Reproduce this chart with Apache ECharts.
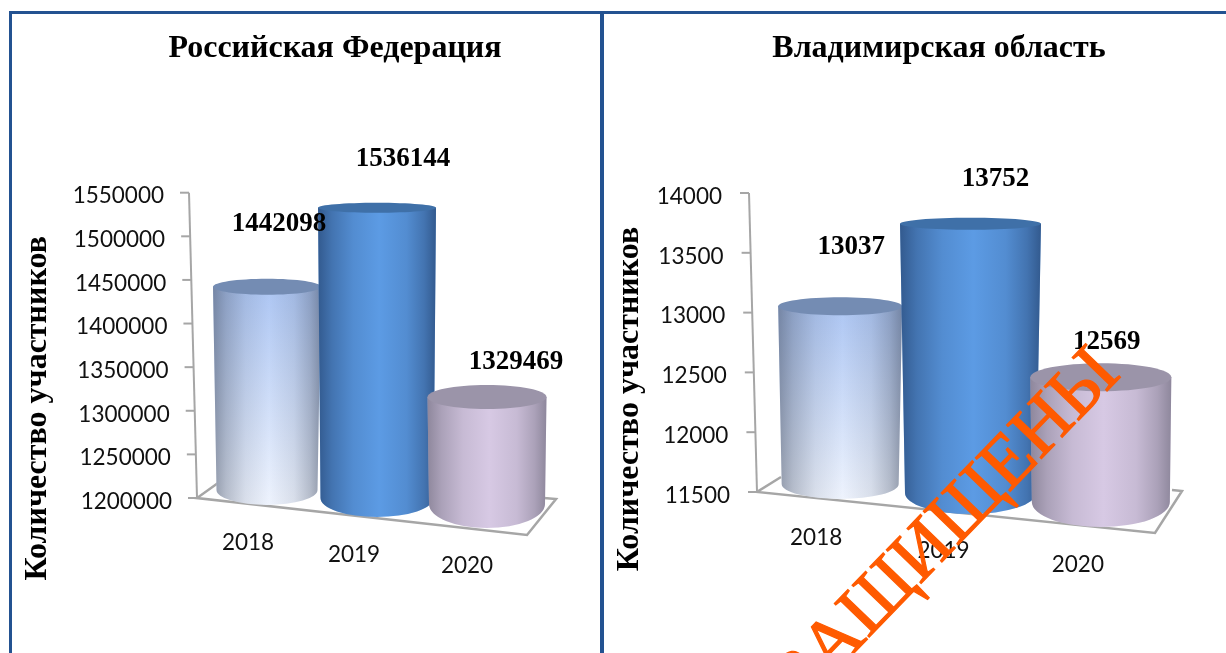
<!DOCTYPE html>
<html>
<head>
<meta charset="utf-8">
<style>html,body{margin:0;padding:0;background:#fff}#c{width:1226px;height:653px}</style>
<script src="https://cdn.jsdelivr.net/npm/echarts@6/dist/echarts.min.js"></script>
</head>
<body>
<div id="c"></div>
<script>
const categories = ['2018', '2019', '2020'];
const valuesRF = [1442098, 1536144, 1329469];
const valuesVlad = [13037, 13752, 12569];
const ticksRF = [1200000, 1250000, 1300000, 1350000, 1400000, 1450000, 1500000, 1550000];
const ticksVlad = [11500, 12000, 12500, 13000, 13500, 14000];
const titleRF = 'Российская Федерация';
const titleVlad = 'Владимирская область';
const yName = 'Количество участников';
const watermark = 'ЗАЩИЩЕНЫ';

const SERIF = '"Liberation Serif","Times New Roman",serif';
const SANS = 'Lato,"Noto Sans",sans-serif';
const GRAY = '#a6a6a6';

const skins = [
  {bodyTop: '#adc6f3', bodyBot: '#eef3fd', edge: '70,80,100', a: 0.55, cap: '#748cb3'},
  {bodyTop: '#5c9be4', bodyBot: '#5c9be4', edge: '25,50,90', a: 0.62, cap: '#3f70a8'},
  {bodyTop: '#d7c9e4', bodyBot: '#d7c9e4', edge: '70,70,85', a: 0.5, cap: '#9b94a9'}
];

// perspective layout for each panel (not data): per category
const panels = [
  {
    grid: {left: 212, top: 192.7, width: 330, height: 305.3},
    min: 1200000, max: 1550000, interval: 50000, ticks: ticksRF, values: valuesRF,
    originDX: -15, skew: 8, tickLen: 9, labelGap: 40,
    floor: [[21, -15], [0, 0], [330, 37], [359, 1], [347, 0]],
    nameGap: 158, namePad: 126,
    bars: [
      {wT: 108, wB: 101, sT: 0, ryT: 8, sB: -8, ryB: 15},
      {wT: 118, wB: 113, sT: 3, ryT: 5, sB: 0, ryB: 19},
      {wT: 119, wB: 116, sT: 12, ryT: 12, sB: 6, ryB: 24}
    ],
    lab: [[12, -63], [26, -46], [29, -23]],
    xl: [[38, 33], [46, 45], [40, 56]]
  },
  {
    grid: {left: 775, top: 193, width: 391, height: 299},
    min: 11500, max: 14000, interval: 500, ticks: ticksVlad, values: valuesVlad,
    originDX: -18, skew: 8, tickLen: 9, labelGap: 45,
    floor: [[24, -15], [0, 0], [398, 41], [425, -1], [415, -2]],
    nameGap: 129, namePad: 113,
    bars: [
      {wT: 124, wB: 117, sT: -2, ryT: 9, sB: -8, ryB: 15},
      {wT: 141, wB: 131, sT: 1, ryT: 6, sB: 1, ryB: 21},
      {wT: 141, wB: 138, sT: 13, ryT: 14, sB: 10, ryB: 25}
    ],
    lab: [[11, -61], [25, -44], [6, -22]],
    xl: [[48, 34], [54, 47], [46, 61]]
  }
];

function vGrad(a, b) {
  return {type: 'linear', x: 0, y: 0, x2: 0, y2: 1, colorStops: [{offset: 0, color: a}, {offset: 1, color: b}]};
}
function shade(skin) {
  const c = function (f) { return 'rgba(' + skin.edge + ',' + (skin.a * f) + ')'; };
  return {type: 'linear', x: 0, y: 0, x2: 1, y2: 0, colorStops: [
    {offset: 0, color: c(1)},
    {offset: 0.12, color: c(0.6)},
    {offset: 0.3, color: c(0.22)},
    {offset: 0.52, color: c(0)},
    {offset: 0.75, color: c(0.22)},
    {offset: 0.9, color: c(0.6)},
    {offset: 1, color: c(1)}
  ]};
}

function renderFrame(p) {
  return function (params, api) {
    const cs = params.coordSys;
    const v = api.value(1);
    const pt = api.coord([0, v]);
    const ox = cs.x + p.originDX;
    const t = (v - p.min) / (p.max - p.min);
    const x = ox - p.skew * t;
    const children = [{
      type: 'line', shape: {x1: x - p.tickLen, y1: pt[1], x2: x, y2: pt[1]},
      style: {stroke: GRAY, lineWidth: 2}
    }];
    if (params.dataIndex === 0) {
      const oy = cs.y + cs.height;
      children.push({
        type: 'polyline',
        shape: {points: p.floor.map(q => [ox + q[0], oy + q[1]])},
        style: {fill: 'none', stroke: GRAY, lineWidth: 2.5}
      });
      children.push({
        type: 'line', shape: {x1: ox, y1: oy, x2: ox - p.skew, y2: cs.y},
        style: {stroke: GRAY, lineWidth: 2}
      });
    }
    return {type: 'group', children};
  };
}

function renderBar(p) {
  return function (params, api) {
    const i = api.value(0);
    const b = p.bars[i];
    const skin = skins[i];
    const top = api.coord([i, api.value(1)]);
    const base = api.coord([i, p.min]);
    const cx = top[0];
    const yT = top[1] + b.sT;
    const yB = base[1] + b.sB;
    const d = 'M' + (cx - b.wT / 2) + ' ' + yT + 'L' + (cx + b.wT / 2) + ' ' + yT +
      'L' + (cx + b.wB / 2) + ' ' + yB +
      'A' + (b.wB / 2) + ' ' + b.ryB + ' 0 0 1 ' + (cx - b.wB / 2) + ' ' + yB + 'Z';
    return {
      type: 'group',
      children: [
        {type: 'path', shape: {pathData: d}, style: {fill: vGrad(skin.bodyTop, skin.bodyBot)}},
        {type: 'path', shape: {pathData: d}, style: {fill: shade(skin)}},
        {type: 'ellipse', shape: {cx: cx, cy: yT, rx: b.wT / 2, ry: b.ryT}, style: {fill: skin.cap}}
      ]
    };
  };
}

function renderLabel(p) {
  return function (params, api) {
    const i = api.value(0);
    const v = api.value(1);
    const pt = api.coord([i, v]);
    return {
      type: 'text',
      x: pt[0] + p.lab[i][0],
      y: pt[1] + p.lab[i][1],
      style: {
        text: String(v), fill: '#000', align: 'center', verticalAlign: 'middle',
        font: 'bold 27px ' + SERIF
      }
    };
  };
}

const grid = [], xAxis = [], yAxis = [], series = [];
panels.forEach(function (p, k) {
  grid.push(Object.assign({containLabel: false}, p.grid));
  const xRich = {};
  categories.forEach(function (c, i) {
    xRich['c' + i] = {fontFamily: SANS, fontSize: 22.5, color: '#111', padding: [p.xl[i][1], p.xl[i][0], 0, 0]};
  });
  xAxis.push({
    type: 'category', gridIndex: k, data: categories,
    axisLine: {show: false}, axisTick: {show: false},
    axisLabel: {
      margin: 0, interval: 0,
      formatter: function (val, idx) { return '{c' + idx + '|' + val + '}'; },
      rich: xRich
    }
  });
  const yRich = {};
  p.ticks.forEach(function (t, i) {
    yRich['t' + i] = {
      fontFamily: SANS, fontSize: 22.5, color: '#111', align: 'right',
      padding: [7, p.skew * (t - p.min) / (p.max - p.min), 0, 0]
    };
  });
  yAxis.push({
    type: 'value', gridIndex: k, min: p.min, max: p.max, interval: p.interval,
    splitLine: {show: false}, axisLine: {show: false}, axisTick: {show: false},
    axisLabel: {
      margin: p.labelGap,
      formatter: function (val) { return '{t' + p.ticks.indexOf(val) + '|' + val + '}'; },
      rich: yRich
    },
    name: yName, nameLocation: 'middle', nameRotate: 90, nameGap: p.nameGap,
    nameTextStyle: {fontFamily: SERIF, fontWeight: 'bold', fontSize: 32, color: '#000', padding: [0, p.namePad, 0, 0]}
  });
  const barData = categories.map(function (c, i) { return [i, p.values[i]]; });
  series.push({
    type: 'custom', name: 'frame' + k, xAxisIndex: k, yAxisIndex: k, clip: false, silent: true,
    renderItem: renderFrame(p), data: p.ticks.map(function (t) { return [0, t]; }),
    encode: {x: 0, y: 1}
  });
  series.push({
    type: 'custom', name: 'bars' + k, xAxisIndex: k, yAxisIndex: k, clip: false,
    renderItem: renderBar(p), data: barData, encode: {x: 0, y: 1}
  });
  series.push({
    type: 'custom', name: 'labels' + k, xAxisIndex: k, yAxisIndex: k, clip: false, silent: true,
    renderItem: renderLabel(p), data: barData, encode: {x: 0, y: 1}
  });
});

const BLUE = '#235291';
const chart = echarts.init(document.getElementById('c'), null, {renderer: 'canvas'});
chart.setOption({
  animation: false,
  backgroundColor: '#fff',
  title: [
    {text: titleRF, left: 330, top: 28, textAlign: 'center', textStyle: {fontFamily: SERIF, fontWeight: 'bold', fontSize: 32, color: '#000'}},
    {text: titleVlad, left: 934, top: 28, textAlign: 'center', textStyle: {fontFamily: SERIF, fontWeight: 'bold', fontSize: 32, color: '#000'}}
  ],
  grid, xAxis, yAxis, series,
  graphic: [
    {type: 'rect', z: 100, shape: {x: 9, y: 11, width: 3, height: 642}, style: {fill: BLUE}},
    {type: 'rect', z: 100, shape: {x: 9, y: 11, width: 1217, height: 3}, style: {fill: BLUE}},
    {type: 'rect', z: 100, shape: {x: 600, y: 11, width: 4, height: 642}, style: {fill: BLUE}},
    {type: 'text', z: 200, x: 1108, y: 362, rotation: 46 * Math.PI / 180,
      style: {text: watermark, fill: '#ff5a00', stroke: '#ff5a00', lineWidth: 1.2, font: '74px ' + SERIF, align: 'right', verticalAlign: 'middle'}}
  ]
});
</script>
</body>
</html>
